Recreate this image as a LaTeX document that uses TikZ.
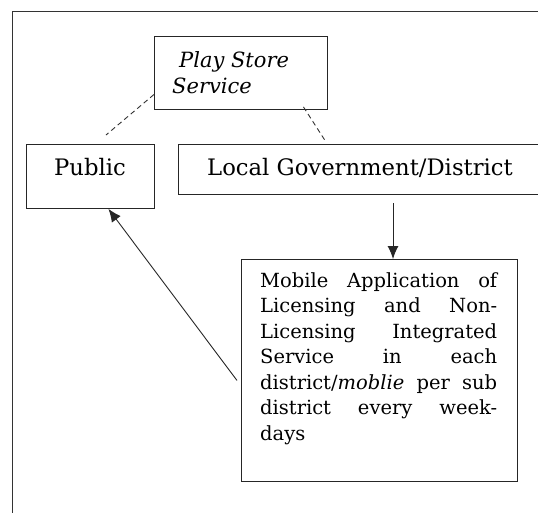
\documentclass[tikz,border=0pt]{standalone}
\usepackage{fontspec}
\setmainfont{DejaVu Serif}
\usetikzlibrary{arrows.meta}
\newlength{\mobw}
\setlength{\mobw}{237pt}
\newcommand{\jl}[1]{\makebox[\mobw][s]{#1}}
\begin{document}
\begin{tikzpicture}[x=1pt,y=-1pt,
  box/.style={draw=black!85, line width=0.9pt, rectangle, inner sep=0pt, anchor=north west},
  lbl/.style={inner sep=0pt, anchor=base west, text=black},
  dashline/.style={draw=black!80, line width=0.9pt, dash pattern=on 5pt off 3.5pt},
  arr/.style={draw=black!85, line width=0.9pt, -{Latex[length=13pt,width=11pt]}}]
\useasboundingbox (0,0) rectangle (538,512);
\clip (0,0) rectangle (538,512);
% outer frame (cut off at right and bottom)
\draw[line width=1pt, black!80] (12,11) rectangle (570,560);
% boxes
\node[box, minimum width=173pt, minimum height=73pt] (play) at (154,36) {};
\node[box, minimum width=128pt, minimum height=64pt] (pub) at (26,144) {};
\node[box, minimum width=400pt, minimum height=50pt] (lg) at (178,144) {};
\node[box, minimum width=276pt, minimum height=222pt] (mob) at (241,259) {};
% texts
\node[lbl] (tplay1) at (179,67) {\fontsize{21}{26}\selectfont\itshape Play Store};
\node[lbl] (tplay2) at (172,93) {\fontsize{21}{26}\selectfont\itshape Service};
\node[lbl] (tpub) at (54,175) {\fontsize{22.7}{26}\selectfont Public};
\node[lbl] (tlg) at (207,175) {\fontsize{22.7}{26}\selectfont Local Government/District};
\node[lbl] (tmob) at (260,287) {\fontsize{19.5}{25.5}\selectfont\parbox[t]{\mobw}{%
\jl{Mobile Application of}\\
\jl{Licensing and Non-}\\
\jl{Licensing Integrated}\\
\jl{Service in each}\\
\jl{district/\textit{moblie} per sub}\\
\jl{district every week-}\\
days}};
% dashed connectors
\coordinate (d1) at (106,135);
\coordinate (d2) at (326,142);
\draw[dashline] ([yshift=-21.5pt]play.west) -- (d1);
\draw[dashline] ([xshift=62.5pt,yshift=3pt]play.south) -- (d2);
% arrows
\coordinate (a1) at (393,203);
\draw[arr] (a1) -- (a1 |- mob.north);
\draw[arr] ([xshift=-4pt,yshift=-10pt]mob.west) -- ([xshift=18pt]pub.south);
\end{tikzpicture}
\end{document}
